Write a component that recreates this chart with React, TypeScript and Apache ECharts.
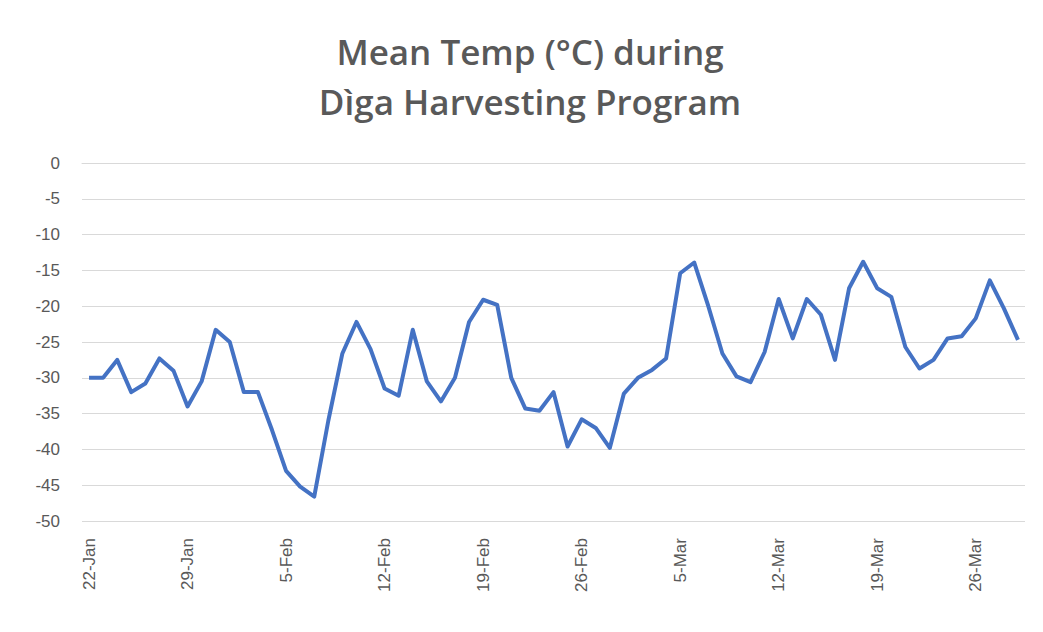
import React, { useEffect, useRef } from "react";
import * as echarts from "echarts";

const dates: string[] = [
  "22-Jan", "23-Jan", "24-Jan", "25-Jan", "26-Jan", "27-Jan", "28-Jan", "29-Jan", "30-Jan", "31-Jan",
  "1-Feb", "2-Feb", "3-Feb", "4-Feb", "5-Feb", "6-Feb", "7-Feb", "8-Feb", "9-Feb", "10-Feb",
  "11-Feb", "12-Feb", "13-Feb", "14-Feb", "15-Feb", "16-Feb", "17-Feb", "18-Feb", "19-Feb", "20-Feb",
  "21-Feb", "22-Feb", "23-Feb", "24-Feb", "25-Feb", "26-Feb", "27-Feb", "28-Feb",
  "1-Mar", "2-Mar", "3-Mar", "4-Mar", "5-Mar", "6-Mar", "7-Mar", "8-Mar", "9-Mar", "10-Mar",
  "11-Mar", "12-Mar", "13-Mar", "14-Mar", "15-Mar", "16-Mar", "17-Mar", "18-Mar", "19-Mar", "20-Mar",
  "21-Mar", "22-Mar", "23-Mar", "24-Mar", "25-Mar", "26-Mar", "27-Mar", "28-Mar", "29-Mar",
];

const meanTemp: number[] = [
  -30, -30, -27.5, -32, -30.8, -27.3, -29, -34, -30.5, -23.3,
  -25, -32, -32, -37.3, -43, -45.2, -46.6, -36, -26.6, -22.2,
  -26, -31.5, -32.5, -23.3, -30.5, -33.3, -30, -22.2, -19.1, -19.8,
  -30, -34.3, -34.6, -32, -39.6, -35.8, -37, -39.8,
  -32.2, -30, -28.9, -27.3, -15.4, -13.9, -20, -26.6, -29.8, -30.6,
  -26.4, -19, -24.5, -19, -21.2, -27.5, -17.5, -13.8, -17.5, -18.7,
  -25.7, -28.7, -27.5, -24.5, -24.2, -21.7, -16.4, -20.3, -24.7,
];

const titleLines: string[] = ["Mean Temp (°C) during", "Dìga Harvesting Program"];

export default function App() {
  const ref = useRef<HTMLDivElement>(null);
  useEffect(() => {
    if (!ref.current) return;
    const chart = echarts.init(ref.current, undefined, { renderer: "svg" });
    chart.setOption({
      animation: false,
      backgroundColor: "#ffffff",
      title: {
        text: titleLines.join("\n"),
        left: 517,
        textAlign: "center",
        top: 13,
        textStyle: {
          fontFamily: "Open Sans",
          fontWeight: 600,
          fontSize: 35,
          lineHeight: 50,
          color: "#595959",
          align: "center",
        },
      },
      grid: { left: 74, right: 10, top: 155, bottom: 103, containLabel: false },
      xAxis: {
        type: "category",
        data: dates,
        boundaryGap: true,
        axisLine: { show: true, lineStyle: { color: "#D9D9D9", width: 1 } },
        axisTick: { show: false },
        axisLabel: {
          interval: 6,
          rotate: 90,
          margin: 17,
          color: "#595959",
          fontSize: 17,
          fontFamily: "Liberation Sans",
        },
        splitLine: { show: false },
      },
      yAxis: {
        type: "value",
        min: -50,
        max: 0,
        interval: 5,
        axisLine: { show: false },
        axisTick: { show: false },
        axisLabel: {
          margin: 22,
          color: "#595959",
          fontSize: 17,
          fontFamily: "Liberation Sans",
        },
        splitLine: { show: true, lineStyle: { color: "#D9D9D9", width: 1 } },
      },
      series: [
        {
          type: "line",
          data: meanTemp,
          showSymbol: false,
          symbol: "none",
          lineStyle: { color: "#4472C4", width: 4, join: "round" },
          itemStyle: { color: "#4472C4" },
        },
      ],
    });
    return () => chart.dispose();
  }, []);
  return <div ref={ref} style={{ width: 1027, height: 616 }} />;
}
